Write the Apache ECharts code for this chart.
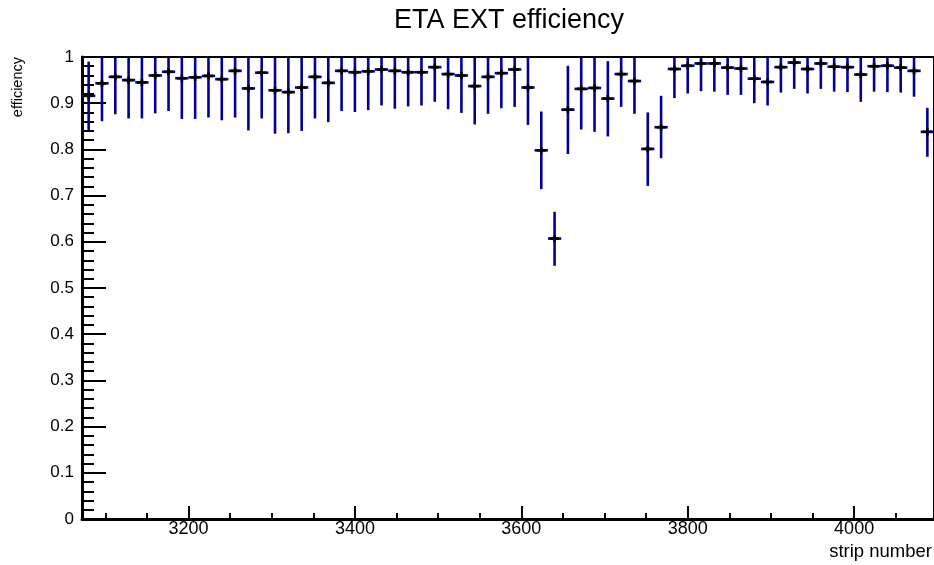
<!DOCTYPE html>
<html><head><meta charset="utf-8">
<script src="https://cdn.jsdelivr.net/npm/echarts@6/dist/echarts.min.js"></script>
<style>html,body{margin:0;padding:0;background:#fff}#c{width:934px;height:565px}</style>
</head><body><div id="c"></div>
<script>
const chartTitle = 'ETA EXT efficiency';
const xTitle = 'strip number';
const yTitle = 'efficiency';
const xMin = 3072, xMax = 4096, binWidth = 16;
const stripCenters = [3080,3096,3112,3128,3144,3160,3176,3192,3208,3224,3240,3256,3272,3288,3304,3320,
  3336,3352,3368,3384,3400,3416,3432,3448,3464,3480,3496,3512,3528,3544,3560,3576,
  3592,3608,3624,3640,3656,3672,3688,3704,3720,3736,3752,3768,3784,3800,3816,3832,
  3848,3864,3880,3896,3912,3928,3944,3960,3976,3992,4008,4024,4040,4056,4072,4088];
const efficiency = [0.916,0.943,0.957,0.950,0.945,0.960,0.968,0.954,0.956,0.959,0.952,0.970,0.932,0.966,0.928,0.924,
  0.934,0.957,0.944,0.970,0.967,0.969,0.973,0.970,0.967,0.967,0.978,0.963,0.960,0.937,0.957,0.965,
  0.973,0.934,0.798,0.607,0.886,0.931,0.933,0.910,0.963,0.948,0.801,0.848,0.974,0.981,0.986,0.986,
  0.977,0.975,0.953,0.946,0.978,0.988,0.974,0.986,0.979,0.978,0.962,0.980,0.981,0.977,0.970,0.838];
const lowerBound = [0.842,0.861,0.876,0.867,0.867,0.878,0.883,0.866,0.866,0.869,0.863,0.869,0.841,0.867,0.834,0.835,
  0.840,0.867,0.859,0.883,0.881,0.885,0.895,0.888,0.893,0.895,0.903,0.887,0.879,0.854,0.877,0.889,
  0.892,0.853,0.714,0.548,0.790,0.843,0.838,0.828,0.892,0.877,0.721,0.781,0.911,0.921,0.926,0.925,
  0.918,0.918,0.900,0.895,0.923,0.931,0.921,0.931,0.925,0.924,0.903,0.925,0.924,0.923,0.914,0.784];
const upperBound = [0.990,1,1,1,1,1,1,1,1,1,1,1,1,1,1,1,
  1,1,1,1,1,1,1,1,1,1,1,1,1,1,1,1,
  1,1,0.882,0.665,0.981,1,1,0.991,1,1,0.880,0.916,1,1,1,1,
  1,1,1,1,1,1,1,1,1,1,1,1,1,1,1,0.890];
const xMajorTicks = [3200,3400,3600,3800,4000];
const xMinorTicks = [3100,3150,3250,3300,3350,3450,3500,3550,3650,3700,3750,3850,3900,3950,4050];

const FONT = '"Liberation Sans", Arial, Helvetica, sans-serif';
const data = stripCenters.map((x, i) => [x, efficiency[i], lowerBound[i], upperBound[i]]);
const chart = echarts.init(document.getElementById('c'), null, {renderer: 'canvas'});
const blue = '#000099';
chart.setOption({
  animation: false,
  backgroundColor: '#fff',
  grid: {left: 82, right: -1, top: 57, bottom: 46, show: true, borderColor: '#000', borderWidth: 2, backgroundColor: 'transparent'},
  xAxis: [{
    type: 'value', min: xMin, max: xMax, position: 'bottom',
    axisLine: {show: true, lineStyle: {color: '#000', width: 3}},
    axisTick: {show: true, inside: true, length: 13, customValues: xMajorTicks, lineStyle: {color: '#000', width: 2}},
    axisLabel: {show: true, customValues: xMajorTicks, color: '#000', fontSize: 18, fontFamily: FONT, margin: 1,
      formatter: function (v) { return String(v); }},
    splitLine: {show: false}
  }, {
    type: 'value', min: xMin, max: xMax, position: 'bottom',
    axisLine: {show: false},
    axisTick: {show: true, inside: true, length: 6, customValues: xMinorTicks, lineStyle: {color: '#000', width: 2}},
    axisLabel: {show: false},
    splitLine: {show: false}
  }],
  yAxis: {
    type: 'value', min: 0, max: 1, interval: 0.1,
    axisLine: {show: true, lineStyle: {color: '#000', width: 3}},
    axisTick: {show: true, inside: true, length: 24, lineStyle: {color: '#000', width: 2}},
    minorTick: {show: true, splitNumber: 5, length: 12, lineStyle: {color: '#000', width: 2}},
    axisLabel: {color: '#000', fontSize: 17, fontFamily: FONT, margin: 8},
    splitLine: {show: false}, minorSplitLine: {show: false}
  },
  graphic: [
    {type: 'text', x: 509, y: 21, style: {text: chartTitle, fill: '#000', font: '27px ' + FONT, textAlign: 'center', textVerticalAlign: 'middle'}},
    {type: 'text', x: 932, y: 552, style: {text: xTitle, fill: '#000', font: '18.5px ' + FONT, textAlign: 'right', textVerticalAlign: 'middle'}},
    {type: 'text', x: 18, y: 57, rotation: Math.PI / 2, style: {text: yTitle, fill: '#000', font: '14.5px ' + FONT, textAlign: 'right', textVerticalAlign: 'middle'}}
  ],
  series: [{
    type: 'custom',
    xAxisIndex: 0, yAxisIndex: 0,
    data: data,
    renderItem: function (params, api) {
      const x = api.value(0), y = api.value(1), lo = api.value(2), hi = api.value(3);
      const c = api.coord([x, y]);
      const pLo = api.coord([x, lo]);
      const pHi = api.coord([x, hi]);
      const l = api.coord([x - binWidth / 2, y]);
      const r = api.coord([x + binWidth / 2, y]);
      return {type: 'group', children: [
        {type: 'line', shape: {x1: c[0], y1: pHi[1], x2: c[0], y2: pLo[1]}, style: {stroke: blue, lineWidth: 2.6}},
        {type: 'line', shape: {x1: l[0], y1: c[1], x2: r[0], y2: c[1]}, style: {stroke: blue, lineWidth: 2.6}},
        {type: 'line', shape: {x1: c[0] - 4.5, y1: c[1], x2: c[0] + 4.5, y2: c[1]}, style: {stroke: '#000', lineWidth: 2.6}},
        {type: 'line', shape: {x1: c[0], y1: c[1] - 3.5, x2: c[0], y2: c[1] + 3.5}, style: {stroke: '#000', lineWidth: 2.6}}
      ]};
    }
  }]
});
</script></body></html>
